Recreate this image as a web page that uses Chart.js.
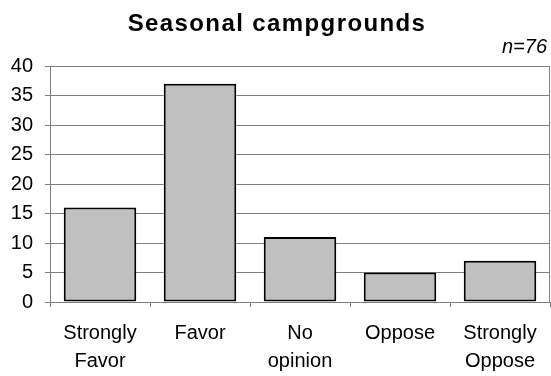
<!DOCTYPE html>
<html>
<head>
<meta charset="utf-8">
<script src="https://cdn.jsdelivr.net/npm/chart.js@4/dist/chart.umd.min.js"></script>
<style>
  html, body { margin: 0; padding: 0; background: #fff; }
  #wrap { width: 551px; height: 376px; position: relative; }
</style>
</head>
<body>
<div id="wrap"><canvas id="c" width="551" height="376"></canvas></div>
<script>
const titleText = "Seasonal campgrounds";
const noteText = "n=76";
const categories = [["Strongly", "Favor"], "Favor", ["No", "opinion"], "Oppose", ["Strongly", "Oppose"]];
const counts = [16, 37, 11, 5, 7];
const yTicks = { min: 0, max: 40, step: 5 };

const FONT = "'Liberation Sans', Arial, sans-serif";

const framePlugin = {
  id: 'frame',
  beforeDatasetsDraw(chart) {
    const { ctx, chartArea: a } = chart;
    ctx.save();
    ctx.strokeStyle = '#808080';
    ctx.lineWidth = 1;
    ctx.strokeRect(Math.round(a.left) + 0.5, Math.round(a.top) + 0.5,
      Math.round(a.right - a.left) - 1, Math.round(a.bottom - a.top));
    ctx.restore();
  },
  afterDraw(chart) {
    const { ctx } = chart;
    ctx.save();
    ctx.fillStyle = '#000';
    ctx.textBaseline = 'alphabetic';
    ctx.font = "bold 24px " + FONT;
    ctx.letterSpacing = '1.4px';
    ctx.textAlign = 'center';
    ctx.fillText(titleText, 277, 31);
    ctx.letterSpacing = '0px';
    ctx.font = "italic 20px " + FONT;
    ctx.textAlign = 'right';
    ctx.fillText(noteText, 547, 53);
    ctx.restore();
  }
};

new Chart(document.getElementById('c'), {
  type: 'bar',
  data: {
    labels: categories,
    datasets: [{
      data: counts,
      backgroundColor: '#C0C0C0',
      borderColor: '#000000',
      borderWidth: 2,
      borderSkipped: false,
      categoryPercentage: 1.0,
      barPercentage: 0.725
    }]
  },
  options: {
    responsive: false,
    animation: false,
    devicePixelRatio: 1,
    layout: { padding: { top: 66, right: 1, left: 0, bottom: 0 } },
    plugins: {
      legend: { display: false },
      title: { display: false },
      tooltip: { enabled: false }
    },
    scales: {
      x: {
        offset: true,
        grid: {
          display: true,
          offset: true,
          drawOnChartArea: false,
          drawTicks: true,
          tickLength: 5,
          color: '#808080'
        },
        border: { display: true, color: '#808080', width: 1 },
        ticks: {
          color: '#000',
          font: { family: FONT, size: 20, lineHeight: 1.4 },
          padding: 12,
          maxRotation: 0,
          autoSkip: false
        },
        afterFit(scale) { scale.height = 74; }
      },
      y: {
        min: yTicks.min,
        max: yTicks.max,
        ticks: {
          stepSize: yTicks.step,
          color: '#000',
          font: { family: FONT, size: 20 },
          padding: 12
        },
        grid: {
          color: '#808080',
          lineWidth: 1,
          tickLength: 5,
          drawTicks: true
        },
        border: { display: true, color: '#808080', width: 1 },
        afterFit(scale) { scale.width = 50; }
      }
    }
  },
  plugins: [framePlugin]
});
</script>
</body>
</html>
